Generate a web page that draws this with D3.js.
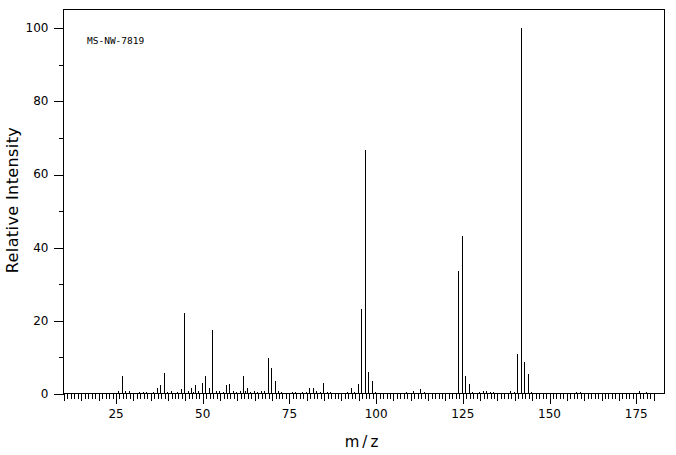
<!DOCTYPE html>
<html>
<head>
<meta charset="utf-8">
<script src="https://cdn.jsdelivr.net/npm/d3@7"></script>
<style>
    body { margin: 0; background: #fff; }
    svg { display: block; }
    text { font-family: "DejaVu Sans", sans-serif; fill: #000; }
</style>
</head>
<body>
<svg id="ms-chart"></svg>
<script>
// Spectrum data (m/z and relative intensity)
const mzValues = [26, 27, 28, 29, 32, 33, 34, 36, 37, 38, 39, 40, 41, 43, 44, 45, 46, 47, 47.5, 48,
    49, 50, 51, 52, 53, 54, 55, 56, 57, 58, 59, 60, 61, 62, 62.5, 63, 64, 65, 66, 67,
    68, 69, 70, 71, 72, 73, 76, 77, 79, 80, 81, 82, 83, 84, 85, 86, 87, 92, 93, 94,
    95, 96, 97, 98, 99, 100, 109, 111, 113, 114, 124, 125, 126, 127, 128, 130, 131, 132, 133, 134,
    139, 140, 141, 142, 143, 144, 145, 158, 159, 176, 178];
const intensities = [0.8, 4.7, 0.8, 0.55, 0.3, 0.3, 0.3, 0.3, 1.4, 2.2, 5.5, 0.3, 0.55, 0.3, 1.1, 22.0, 0.8, 1.6, 0.3, 2.2,
    0.8, 3.0, 4.7, 1.6, 17.4, 0.8, 0.55, 0.3, 2.2, 2.7, 0.8, 0.3, 0.8, 4.9, 0.55, 1.6, 0.3, 0.55, 0.3, 0.55,
    0.8, 9.6, 7.1, 3.3, 0.55, 0.3, 0.3, 0.3, 0.3, 0.3, 1.4, 1.4, 0.55, 0.3, 3.0, 0.3, 0.3, 0.3, 1.4, 0.3,
    2.7, 23.0, 66.7, 5.8, 3.3, 0.3, 0.3, 0.55, 1.1, 0.3, 33.4, 43.2, 4.9, 2.5, 0.3, 0.3, 0.55, 0.55, 0.3, 0.3,
    0.55, 0.3, 10.7, 100, 8.5, 5.2, 0.3, 0.3, 0.3, 0.55, 0.3];

const xMajorTicks = [25, 50, 75, 100, 125, 150, 175];
const xMidTicks = d3.range(10, 181, 5);
const xMinorTicks = d3.range(10, 181, 1);
const yMajorTicks = [0, 20, 40, 60, 80, 100];
const yMinorTicks = [10, 30, 50, 70, 90];
const sampleLabel = "MS-NW-7819";

const width = 676;
const height = 455;
const plot = { left: 63.5, right: 664.5, top: 9.5, bottom: 393.5 };

const svg = d3.select("#ms-chart")
    .attr("width", width)
    .attr("height", height);

// Scales
const x = d3.scaleLinear()
    .domain([10, 183.3])
    .range([plot.left, plot.right]);

const y = d3.scaleLinear()
    .domain([0, 105])
    .range([plot.bottom, plot.top]);

const crisp = v => Math.round(v - 0.5) + 0.5;

// Peaks
svg.append("g")
    .attr("stroke", "#000")
    .attr("stroke-width", 1)
    .attr("shape-rendering", "crispEdges")
    .selectAll("line")
    .data(mzValues)
    .enter()
    .append("line")
    .attr("x1", d => crisp(x(d)))
    .attr("x2", d => crisp(x(d)))
    .attr("y1", y(0))
    .attr("y2", (d, i) => y(intensities[i]));

// X axis, three tick tiers
function xAxis(values, size, labels) {
    const g = svg.append("g")
        .attr("transform", `translate(0,${plot.bottom})`)
        .attr("shape-rendering", "crispEdges")
        .call(d3.axisBottom(x)
            .tickValues(values)
            .tickSize(size)
            .tickPadding(6)
            .tickFormat(labels ? d3.format("d") : ""));
    g.select(".domain").remove();
    g.selectAll(".tick line").attr("transform", d => `translate(${crisp(x(d)) - x(d)},0)`);
    g.selectAll("text").style("font-size", "12px").style("font-family", "DejaVu Sans");
    return g;
}
xAxis(xMinorTicks, 5, false);
xAxis(xMidTicks, 7, false);
xAxis(xMajorTicks, 10, true);

// Y axis
function yAxis(values, size, labels) {
    const g = svg.append("g")
        .attr("transform", `translate(${plot.left},0)`)
        .attr("shape-rendering", "crispEdges")
        .call(d3.axisLeft(y)
            .tickValues(values)
            .tickSize(size)
            .tickPadding(5)
            .tickFormat(labels ? d3.format("d") : ""));
    g.select(".domain").remove();
    g.selectAll(".tick line").attr("transform", d => `translate(0,${crisp(y(d)) - y(d)})`);
    g.selectAll("text").style("font-size", "12px").style("font-family", "DejaVu Sans");
    return g;
}
yAxis(yMinorTicks, 5, false);
yAxis(yMajorTicks, 10, true);

// Frame
svg.append("rect")
    .attr("x", plot.left)
    .attr("y", plot.top)
    .attr("width", plot.right - plot.left)
    .attr("height", plot.bottom - plot.top)
    .attr("fill", "none")
    .attr("stroke", "#000")
    .attr("shape-rendering", "crispEdges");

// Axis labels
svg.append("text")
    .attr("x", 363)
    .attr("y", 447)
    .attr("text-anchor", "middle")
    .style("font-size", "15px")
    .style("letter-spacing", "3px")
    .text("m/z");

svg.append("text")
    .attr("transform", "rotate(-90)")
    .attr("x", -200)
    .attr("y", 18)
    .attr("text-anchor", "middle")
    .style("font-size", "16px")
    .style("letter-spacing", "0.4px")
    .text("Relative Intensity");

// Sample id
svg.append("text")
    .attr("x", 87)
    .attr("y", 44)
    .style("font-family", "DejaVu Sans Mono")
    .style("font-size", "9.5px")
    .text(sampleLabel);
</script>
</body>
</html>
